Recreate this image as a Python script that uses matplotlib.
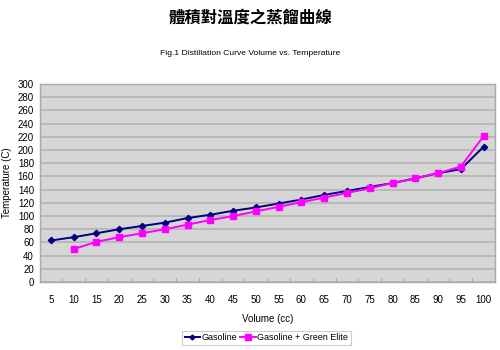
import numpy as np
import matplotlib.pyplot as plt
from matplotlib.ticker import FixedLocator

volume = [5, 10, 15, 20, 25, 30, 35, 40, 45, 50, 55, 60, 65, 70, 75, 80, 85, 90, 95, 100]
gasoline = [63, 68, 74, 80, 85, 90, 97, 102, 108, 113, 119, 125, 132, 138, 144, 150, 157, 165, 171, 205]
green_vol = [10, 15, 20, 25, 30, 35, 40, 45, 50, 55, 60, 65, 70, 75, 80, 85, 90, 95, 100]
green_elite = [50, 61, 68, 74, 80, 87, 94, 100, 107, 114, 121, 128, 135, 142, 150, 157, 165, 175, 221]

plt.rcParams['font.family'] = ['Liberation Sans', 'DejaVu Sans']

fig = plt.figure(figsize=(5, 3.5), dpi=100)
ax = fig.add_axes([0.079, 0.194, 0.911, 0.566])
ax.set_facecolor('#d6d6d6')

# category positions (Excel-style, centred between tick marks)
pos = {v: i for i, v in enumerate(volume)}
x_gas = [pos[v] for v in volume]
x_green = [pos[v] for v in green_vol]

ax.plot(x_gas, gasoline, color='#000080', marker='D', markersize=3.2,
        linewidth=1.4, label='Gasoline', zorder=3)
ax.plot(x_green, green_elite, color='#ff00ff', marker='s', markersize=5,
        linewidth=1.4, label='Gasoline + Green Elite', zorder=4)

ax.set_xlim(-0.5, len(volume) - 0.5)
ax.set_ylim(0, 300)
ax.set_yticks(np.arange(0, 301, 20))
ax.set_xticks(range(len(volume)))
ax.set_xticklabels([str(v) for v in volume])
ax.xaxis.set_minor_locator(FixedLocator(np.arange(0.5, len(volume) - 1, 1)))

ax.grid(axis='y', color='#b4b4b4', linewidth=1.2)
ax.set_axisbelow(True)
ax.tick_params(axis='y', length=0, labelsize=7, pad=4)
ax.tick_params(axis='x', which='major', length=0, labelsize=7, pad=9)
ax.tick_params(axis='x', which='minor', direction='in', length=3, color='#999999')

for s in ax.spines.values():
    s.set_color('#a8a8a8')
    s.set_linewidth(1)

ax.set_xlabel('Volume (cc)', fontsize=7, labelpad=7)
ax.set_ylabel('Temperature (C)', fontsize=7, labelpad=4)

fig.text(0.5, 0.95, '體積對溫度之蒸餾曲線', ha='center', va='center', fontsize=11.8,
         fontweight='bold', family=['Noto Sans CJK TC', 'DejaVu Sans'])
fig.text(0.5, 0.848, 'Fig.1 Distillation Curve Volume vs. Temperature',
         ha='center', va='center', fontsize=6.1)

leg = fig.legend(loc='center', bbox_to_anchor=(0.533, 0.035), ncol=2, fontsize=6.5,
                 frameon=True, fancybox=False, edgecolor='#c0c0c0',
                 handlelength=1.7, handletextpad=0.2, columnspacing=0.3,
                 borderpad=0.3, markerscale=0.8)
leg.get_frame().set_linewidth(0.8)

fig.savefig('out.png', dpi=100)
